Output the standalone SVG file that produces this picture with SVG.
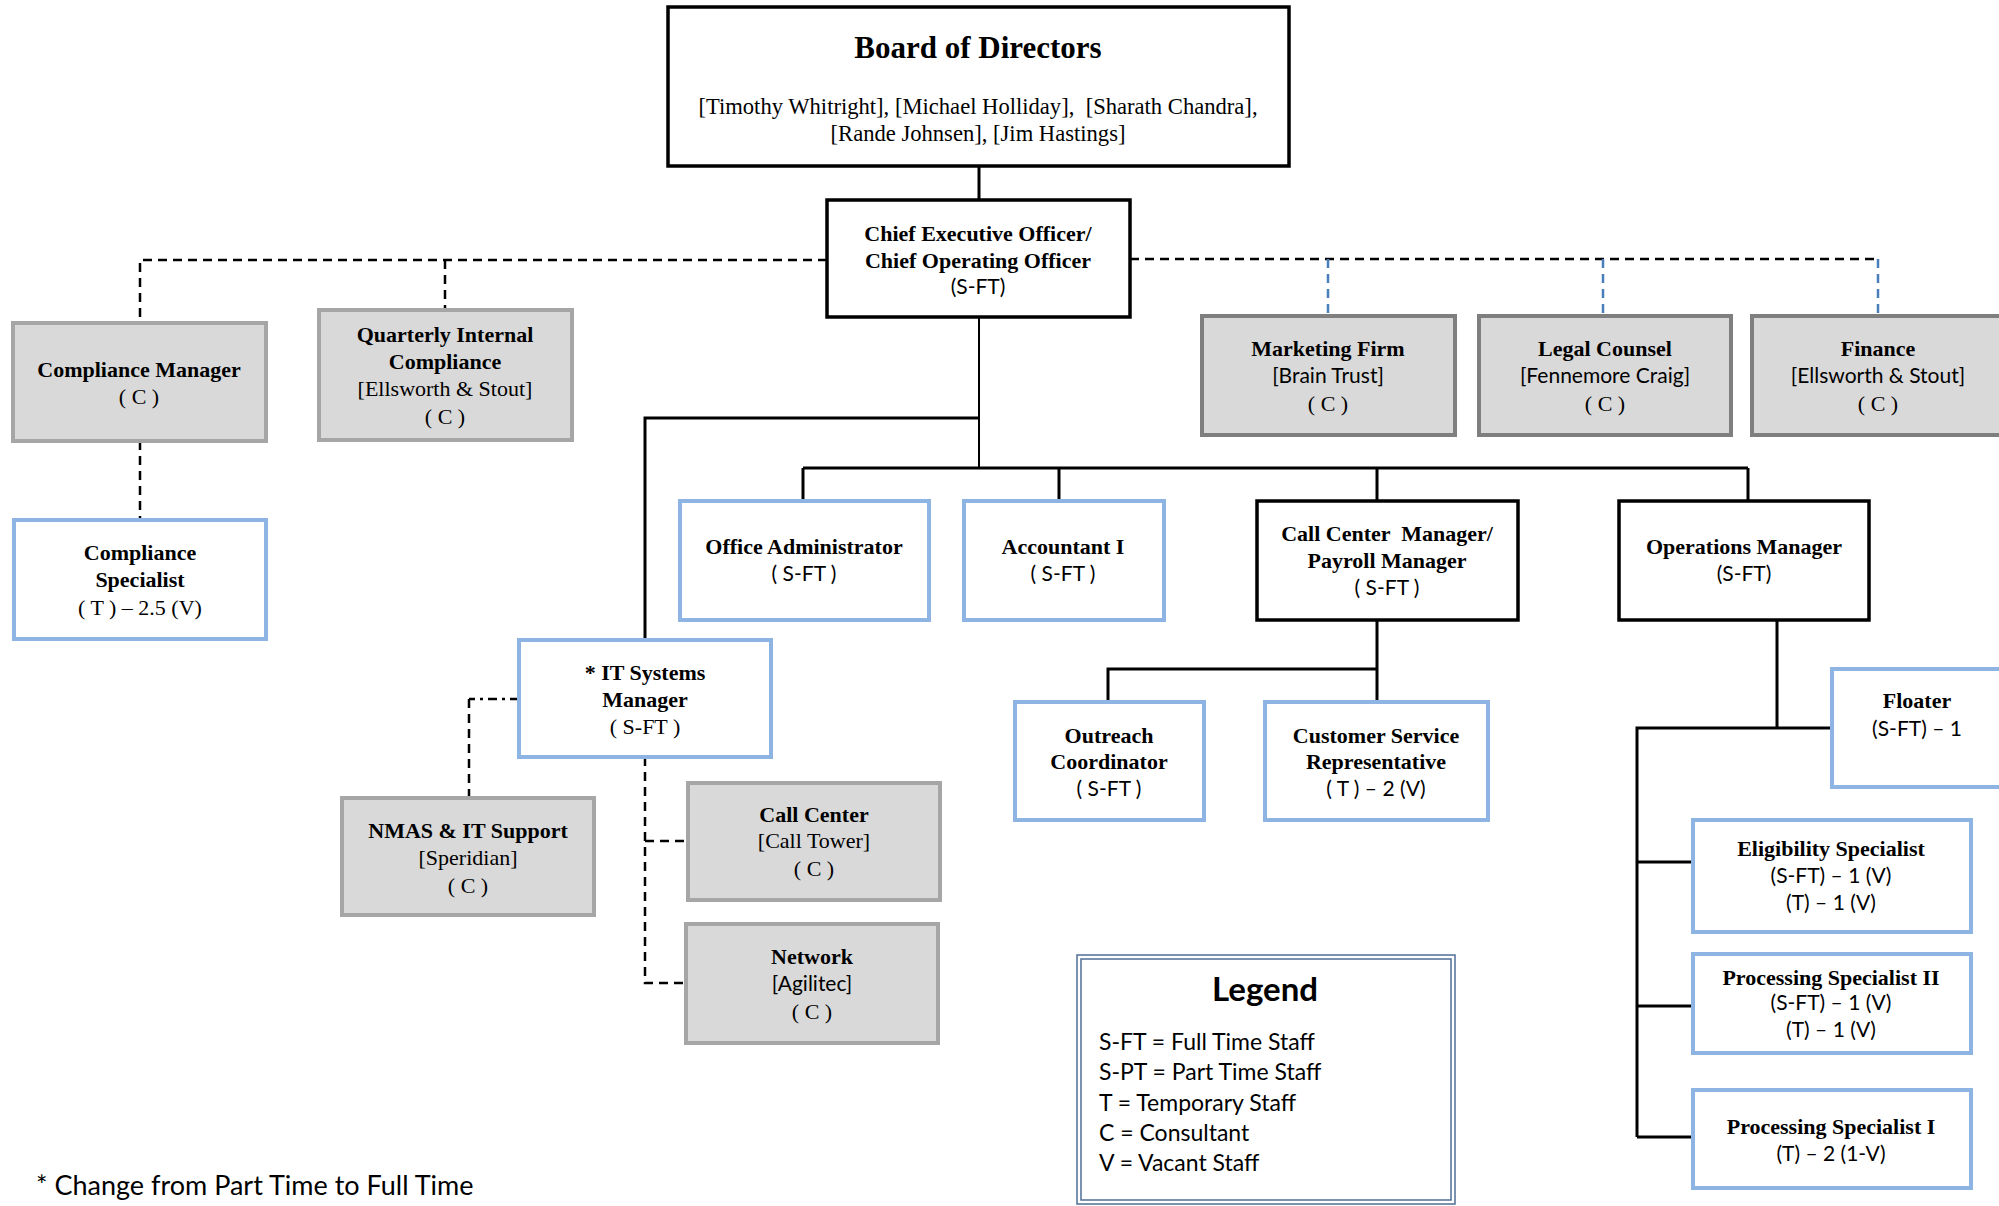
<svg xmlns="http://www.w3.org/2000/svg" width="1999" height="1206" viewBox="0 0 1999 1206">
<style>
.bg{fill:#ffffff}
.blk{fill:#ffffff;stroke:#000000;stroke-width:3.5}
.blu{fill:#ffffff;stroke:#8eb4e3;stroke-width:4}
.gry{fill:#d9d9d9;stroke:#a6a6a6;stroke-width:4}
.gry2{fill:#d9d9d9;stroke:#7f7f7f;stroke-width:4}
.t{font-family:"Liberation Serif","Times New Roman",serif;font-size:22px;fill:#000;text-anchor:middle}
.b{font-weight:bold}
.s{font-family:Lato,"Liberation Sans",sans-serif;font-size:21px;fill:#000;text-anchor:middle}
.ln{fill:none;stroke:#000;stroke-width:3}
.thin{fill:none;stroke:#000;stroke-width:2}
.dash{fill:none;stroke:#000;stroke-width:2.5;stroke-dasharray:9 6}
.bdash{fill:none;stroke:#4a7ebb;stroke-width:2.5;stroke-dasharray:9 6}
.dd{fill:none;stroke:#000;stroke-width:2.5;stroke-dasharray:9 5 3 5}
.leg{font-family:Lato,"Liberation Sans",sans-serif;font-size:23px;fill:#000}
</style>
<rect class="bg" x="0" y="0" width="1999" height="1206"/>

<g id="connectors">
  <path class="ln" d="M979 166 V200"/>
  <path class="thin" d="M979 317 V468"/>
  <path class="ln" d="M979 418 H645 V640"/>
  <path class="ln" d="M803 468 H1748"/>
  <path class="ln" d="M803 468 V501 M1059 468 V501 M1377 468 V501 M1748 468 V501"/>
  <path class="ln" d="M1377 620 V702 M1377 669 H1108 V702"/>
  <path class="ln" d="M1777 620 V728 M1832 728 H1637 V1137 M1637 862 H1693 M1637 1006 H1693 M1637 1137 H1693"/>
  <path class="dash" d="M827 260 H140 V323 M445 260 V310"/>
  <path class="dash" d="M140 441 V520"/>
  <path class="dash" d="M1130 259 H1878"/>
  <path class="bdash" d="M1328 259 V316 M1603 259 V316 M1878 259 V316"/>
  <path class="dash" d="M645 757 V983 H686 M645 841 H688"/>
  <path class="dd" d="M519 699 H469"/>
  <path class="dash" d="M469 699 V798"/>
</g>

<g id="board">
  <rect class="blk" x="668" y="7" width="621" height="159"/>
  <text class="t b" x="978" y="58" style="font-size:31px">Board of Directors</text>
  <text class="t" x="978" y="114" style="font-size:22.6px;white-space:pre">[Timothy Whitright], [Michael Holliday],  [Sharath Chandra],</text>
  <text class="t" x="978" y="141" style="font-size:22.6px">[Rande Johnsen], [Jim Hastings]</text>
</g>

<g id="ceo">
  <rect class="blk" x="827" y="200" width="303" height="117"/>
  <text class="t b" x="978" y="241">Chief Executive Officer/</text>
  <text class="t b" x="978" y="268">Chief Operating Officer</text>
  <text class="s" x="978" y="294">(S-FT)</text>
</g>

<g id="compliance-manager">
  <rect class="gry" x="13" y="323" width="253" height="118"/>
  <text class="t b" x="139" y="377">Compliance Manager</text>
  <text class="t" x="139" y="404">( C )</text>
</g>

<g id="quarterly-internal-compliance">
  <rect class="gry" x="319" y="310" width="253" height="130"/>
  <text class="t b" x="445" y="342">Quarterly Internal</text>
  <text class="t b" x="445" y="369">Compliance</text>
  <text class="t" x="445" y="396">[Ellsworth &amp; Stout]</text>
  <text class="t" x="445" y="424">( C )</text>
</g>

<g id="compliance-specialist">
  <rect class="blu" x="14" y="520" width="252" height="119"/>
  <text class="t b" x="140" y="560">Compliance</text>
  <text class="t b" x="140" y="587">Specialist</text>
  <text class="t" x="140" y="615">( T ) – 2.5 (V)</text>
</g>

<g id="marketing-firm">
  <rect class="gry2" x="1202" y="316" width="253" height="119"/>
  <text class="t b" x="1328" y="356">Marketing Firm</text>
  <text class="s" x="1328" y="383">[Brain Trust]</text>
  <text class="t" x="1328" y="411">( C )</text>
</g>

<g id="legal-counsel">
  <rect class="gry2" x="1479" y="316" width="252" height="119"/>
  <text class="t b" x="1605" y="356">Legal Counsel</text>
  <text class="s" x="1605" y="383">[Fennemore Craig]</text>
  <text class="t" x="1605" y="411">( C )</text>
</g>

<g id="finance">
  <rect class="gry2" x="1752" y="316" width="256" height="119"/>
  <text class="t b" x="1878" y="356">Finance</text>
  <text class="s" x="1878" y="383">[Ellsworth &amp; Stout]</text>
  <text class="t" x="1878" y="411">( C )</text>
</g>

<g id="office-administrator">
  <rect class="blu" x="680" y="501" width="249" height="119"/>
  <text class="t b" x="804" y="554">Office Administrator</text>
  <text class="s" x="804" y="581">( S-FT )</text>
</g>

<g id="accountant">
  <rect class="blu" x="964" y="501" width="200" height="119"/>
  <text class="t b" x="1063" y="554">Accountant I</text>
  <text class="s" x="1063" y="581">( S-FT )</text>
</g>

<g id="call-center-manager">
  <rect class="blk" x="1257" y="501" width="261" height="119"/>
  <text class="t b" x="1387" y="541" style="white-space:pre">Call Center  Manager/</text>
  <text class="t b" x="1387" y="568">Payroll Manager</text>
  <text class="s" x="1387" y="595">( S-FT )</text>
</g>

<g id="operations-manager">
  <rect class="blk" x="1619" y="501" width="250" height="119"/>
  <text class="t b" x="1744" y="554">Operations Manager</text>
  <text class="s" x="1744" y="581">(S-FT)</text>
</g>

<g id="it-systems-manager">
  <rect class="blu" x="519" y="640" width="252" height="117"/>
  <text class="t b" x="645" y="680">* IT Systems</text>
  <text class="t b" x="645" y="707">Manager</text>
  <text class="t" x="645" y="734">( S-FT )</text>
</g>

<g id="nmas-it-support">
  <rect class="gry" x="342" y="798" width="252" height="117"/>
  <text class="t b" x="468" y="838">NMAS &amp; IT Support</text>
  <text class="t" x="468" y="865">[Speridian]</text>
  <text class="t" x="468" y="893">( C )</text>
</g>

<g id="call-center">
  <rect class="gry" x="688" y="783" width="252" height="117"/>
  <text class="t b" x="814" y="822">Call Center</text>
  <text class="t" x="814" y="848">[Call Tower]</text>
  <text class="t" x="814" y="876">( C )</text>
</g>

<g id="network">
  <rect class="gry" x="686" y="924" width="252" height="119"/>
  <text class="t b" x="812" y="964">Network</text>
  <text class="s" x="812" y="991">[Agilitec]</text>
  <text class="t" x="812" y="1019">( C )</text>
</g>

<g id="outreach-coordinator">
  <rect class="blu" x="1015" y="702" width="189" height="118"/>
  <text class="t b" x="1109" y="743">Outreach</text>
  <text class="t b" x="1109" y="769">Coordinator</text>
  <text class="s" x="1109" y="796">( S-FT )</text>
</g>

<g id="customer-service-representative">
  <rect class="blu" x="1265" y="702" width="223" height="118"/>
  <text class="t b" x="1376" y="743">Customer Service</text>
  <text class="t b" x="1376" y="769">Representative</text>
  <text class="s" x="1376" y="796">( T ) – 2 (V)</text>
</g>

<g id="floater">
  <rect class="blu" x="1832" y="669" width="180" height="118"/>
  <text class="t b" x="1917" y="708">Floater</text>
  <text class="s" x="1917" y="736">(S-FT) – 1</text>
</g>

<g id="eligibility-specialist">
  <rect class="blu" x="1693" y="820" width="278" height="112"/>
  <text class="t b" x="1831" y="856">Eligibility Specialist</text>
  <text class="s" x="1831" y="883">(S-FT) – 1 (V)</text>
  <text class="s" x="1831" y="910">(T) – 1 (V)</text>
</g>

<g id="processing-specialist-2">
  <rect class="blu" x="1693" y="954" width="278" height="99"/>
  <text class="t b" x="1831" y="985">Processing Specialist II</text>
  <text class="s" x="1831" y="1010">(S-FT) – 1 (V)</text>
  <text class="s" x="1831" y="1037">(T) – 1 (V)</text>
</g>

<g id="processing-specialist-1">
  <rect class="blu" x="1693" y="1090" width="278" height="98"/>
  <text class="t b" x="1831" y="1134">Processing Specialist I</text>
  <text class="s" x="1831" y="1161">(T) – 2 (1-V)</text>
</g>

<g id="legend">
  <rect x="1077" y="955" width="378" height="249" fill="#ffffff" stroke="#4f6d96" stroke-width="1.5"/>
  <rect x="1081" y="959" width="370" height="241" fill="none" stroke="#4f6d96" stroke-width="1.5"/>
  <text x="1265" y="1001" style="font-family:Lato,'Liberation Sans',sans-serif;font-size:33px;font-weight:bold;text-anchor:middle">Legend</text>
  <text class="leg" x="1099" y="1050">S-FT = Full Time Staff</text>
  <text class="leg" x="1099" y="1080">S-PT = Part Time Staff</text>
  <text class="leg" x="1099" y="1111">T = Temporary Staff</text>
  <text class="leg" x="1099" y="1141">C = Consultant</text>
  <text class="leg" x="1099" y="1171">V = Vacant Staff</text>
</g>

<g id="footnote">
  <text x="36" y="1195" style="font-family:Lato,'Liberation Sans',sans-serif;font-size:27px">* Change from Part Time to Full Time</text>
</g>
</svg>
